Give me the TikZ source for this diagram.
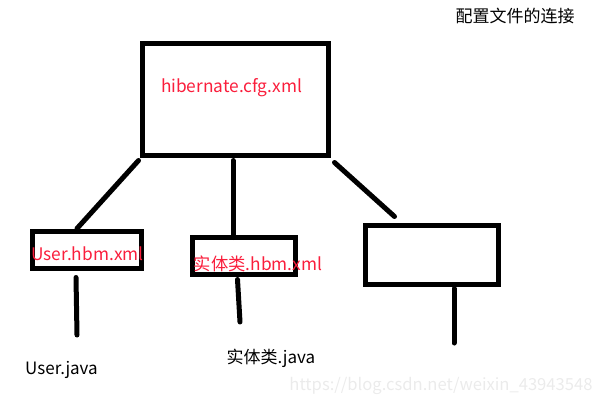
\documentclass[tikz,border=0pt]{standalone}
\usepackage{fontspec}
\setmainfont{Noto Sans CJK SC}
\usetikzlibrary{calc}
\definecolor{cfgred}{RGB}{250,30,60}
\tikzset{
    box/.style={draw, line width=5pt, inner sep=0pt},
    wire/.style={line width=5pt, line cap=round},
    redlbl/.style={text=cfgred, font=\fontsize{17.3}{19}\selectfont, inner sep=0pt},
    blacklbl/.style={font=\fontsize{17}{19}\selectfont, inner sep=0pt}
}

\begin{document}
\begin{tikzpicture}[x=1pt, y=-1pt]
            \useasboundingbox (0, 0) rectangle (608, 404);
            \node[box, minimum width=186pt, minimum height=111pt] (cfg) at (235, 99.5) {};
            \node[box, minimum width=109pt, minimum height=37pt] (user) at (86.5, 249.5) {};
            \node[box, minimum width=103pt, minimum height=37pt] (entity) at (243.5, 255.5) {};
            \node[box, minimum width=133pt, minimum height=59pt] (other) at (431.5, 254.5) {};
            \node[redlbl] (cfgtext) at (231.5, 88) {hibernate.cfg.xml};
            \node[redlbl] (usertext) at (87.5, 254) {User.hbm.xml};
            \node[redlbl] (entitytext) at (258, 264) {实体类.hbm.xml};
            \node[blacklbl] (userjava) at (61.5, 370) {User.java};
            \node[blacklbl] (entityjava) at (271, 358) {实体类.java};
            \node[blacklbl] (title) at (515, 15.5) {配置文件的连接};
            \node[text=black!8, font=\fontsize{16.6}{18}\selectfont, inner sep=0pt] (mark) at (441, 386) {https://blog.csdn.net/weixin\_43943548};
            \coordinate (userend) at (77, 335);
            \coordinate (entityend) at (240, 322);
            \coordinate (otherend) at (454, 343);
            \draw[wire] ([xshift=-1pt, yshift=-3pt]cfg.south west) -- ([xshift=-9.5pt]user.north);
            \draw[wire] ([xshift=-2pt, yshift=-3pt]cfg.south) -- ([xshift=-10.5pt, yshift=-3pt]entity.north);
            \draw[wire] ([xshift=4pt, yshift=-5pt]cfg.south east) -- ([xshift=-37pt, yshift=6pt]other.north);
            \draw[wire] ([xshift=-10.5pt, yshift=-7pt]user.south) -- (userend);
            \draw[wire] ([xshift=-6pt, yshift=-3pt]entity.south) -- (entityend);
            \draw[wire] ([xshift=22.5pt, yshift=-2pt]other.south) -- (otherend);
        \end{tikzpicture}
\end{document}
